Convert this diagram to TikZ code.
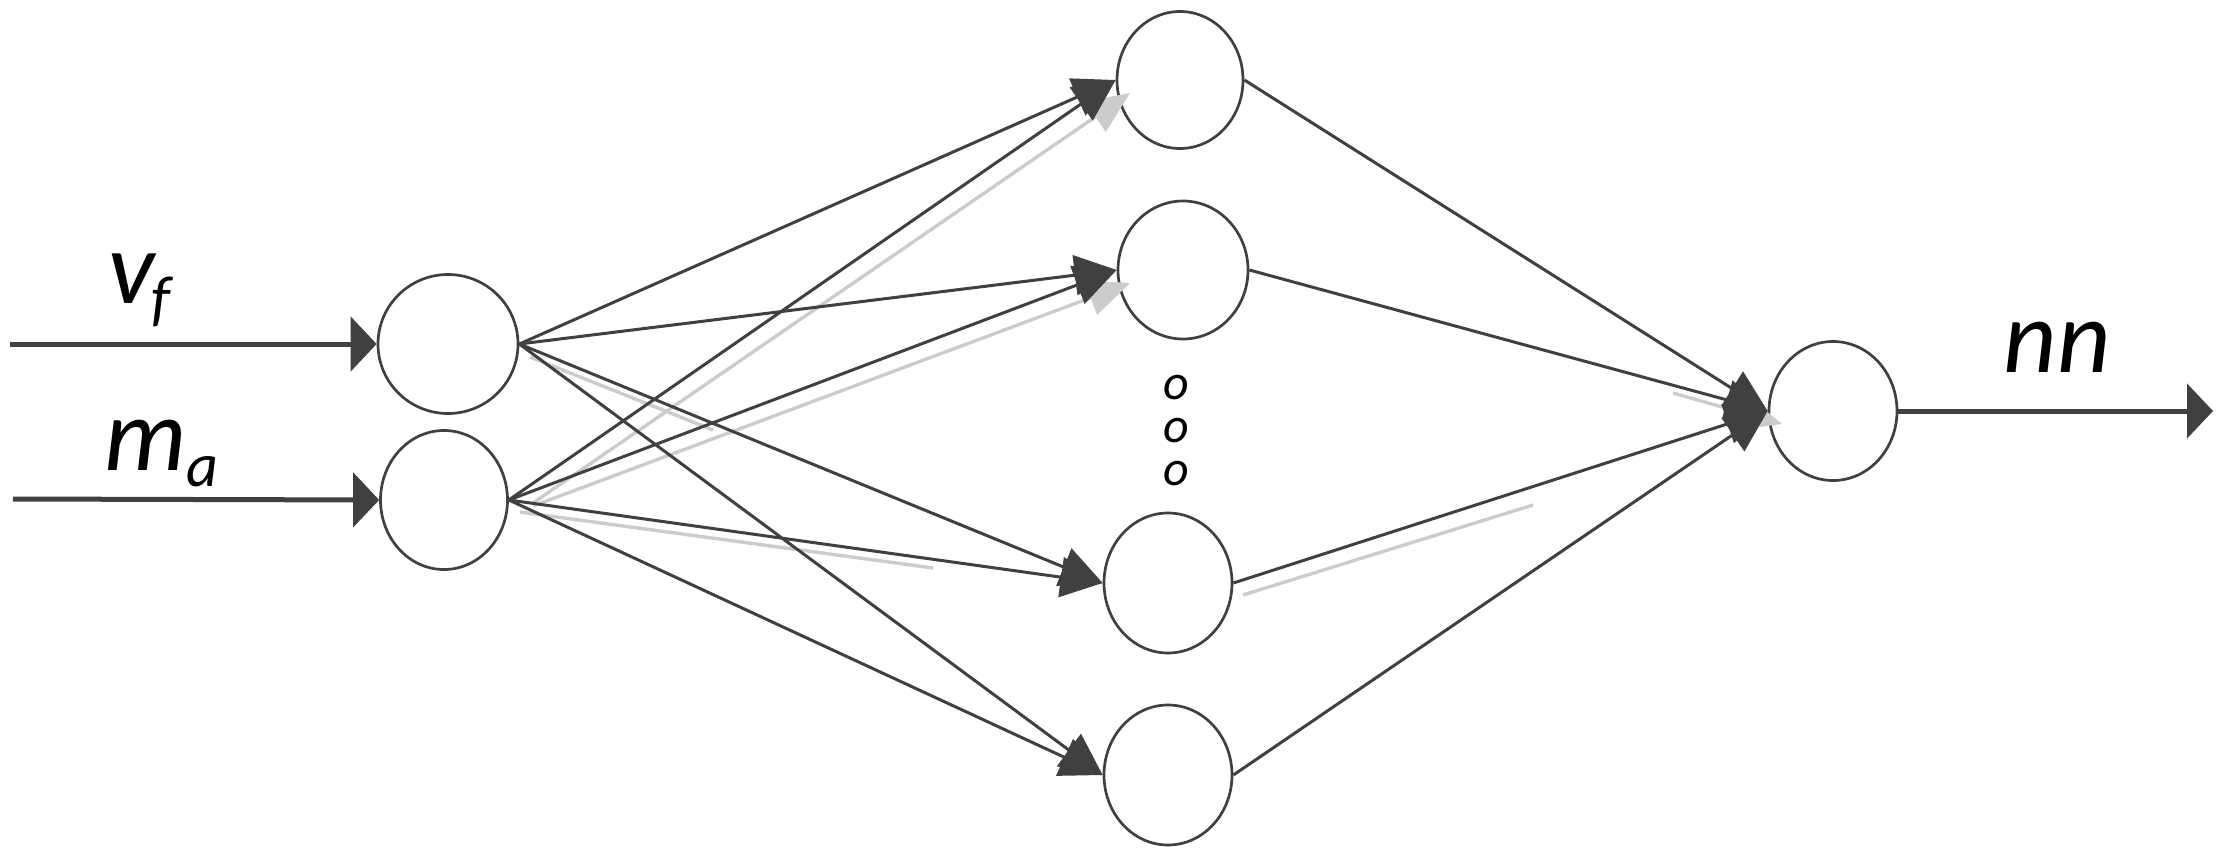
\documentclass[tikz,border=0pt]{standalone}
\usepackage{fontspec}
\setmainfont{Carlito}
\usetikzlibrary{arrows.meta,shapes.geometric}
\definecolor{dk}{HTML}{404040}
\definecolor{lt}{HTML}{CCCCCC}
\begin{document}
\begin{tikzpicture}[x=0.5bp,y=-0.5bp,
  neuron/.style={ellipse,draw=dk,line width=1.35bp,inner sep=0pt},
  inarrow/.style={draw=dk,line width=2.5bp,-{Triangle[length=13bp,width=27bp]}},
  link/.style={draw=dk,line width=1.5bp,-{Triangle[length=21bp,width=20bp]}},
  ghost/.style={draw=lt,line width=1.7bp},
  ghostarrow/.style={ghost,-{Triangle[length=21bp,width=18bp]}},
  lbl/.style={inner sep=0pt,font=\fontsize{52bp}{60bp}\selectfont\itshape},
  dotlbl/.style={inner sep=0pt,font=\fontsize{25bp}{26bp}\selectfont\itshape}]
\useasboundingbox (0,0) rectangle (2230,853);

% neurons
\node[neuron,minimum width=70bp,minimum height=69.5bp] (I1) at (448,344) {};
\node[neuron,minimum width=63.5bp,minimum height=69.5bp] (I2) at (444,500) {};
\node[neuron,minimum width=63bp,minimum height=68.5bp] (H1) at (1180,80) {};
\node[neuron,minimum width=65bp,minimum height=69bp] (H2) at (1183,270) {};
\node[neuron,minimum width=64bp,minimum height=70bp] (H3) at (1168,583) {};
\node[neuron,minimum width=64bp,minimum height=70bp] (H4) at (1168,775) {};
\node[neuron,minimum width=64bp,minimum height=69.5bp] (O) at (1833,411) {};

% dots
\node[dotlbl] (d1) at (1176,388) {o};
\node[dotlbl] (d2) at (1176,431) {o};
\node[dotlbl] (d3) at (1176,474) {o};

% labels
\node[lbl,anchor=base west] (vf) at (108,303) {v\kern-1.5bp\raisebox{-8bp}{\fontsize{31bp}{34bp}\selectfont f}};
\node[lbl,anchor=base west] (ma) at (104,470) {m\kern0bp\raisebox{-8bp}{\fontsize{31bp}{34bp}\selectfont a}};
\node[lbl,anchor=base] (nn) at (2057,372) {nn};

% free ends
\coordinate (vfs) at (10,344);
\coordinate (mas) at (13,499);
\coordinate (oend) at (2213,411);

% ghost (light) lines
\coordinate (g1a) at (533,503); \coordinate (g1b) at (1130,93);
\coordinate (g2a) at (533,506); \coordinate (g2b) at (1130,283);
\coordinate (g3a) at (530,357); \coordinate (g3b) at (713,430);
\coordinate (g4a) at (520,512); \coordinate (g4b) at (933,568);
\coordinate (g5a) at (1243,595); \coordinate (g5b) at (1533,505);
\coordinate (g6a) at (1673,393); \coordinate (g6b) at (1782,424);
\draw[ghostarrow] (g1a) -- (g1b);
\draw[ghostarrow] (g2a) -- (g2b);
\draw[ghost] (g3a) -- (g3b);
\draw[ghost] (g4a) -- (g4b);
\draw[ghost] (g5a) -- (g5b);
\draw[ghostarrow] (g6a) -- (g6b);

% inputs and output
\draw[inarrow] (vfs) -- (I1.west);
\draw[inarrow] (mas) -- (I2.west);
\draw[inarrow] (O.east) -- (oend);

% input -> hidden
\foreach \h in {H1,H2,H3,H4}{
  \draw[link] (I1.east) -- (\h.west);
  \draw[link] (I2.east) -- (\h.west);
}
% hidden -> output
\foreach \h in {H1,H2,H3,H4}{
  \draw[link] (\h.east) -- (O.west);
}
\end{tikzpicture}
\end{document}
